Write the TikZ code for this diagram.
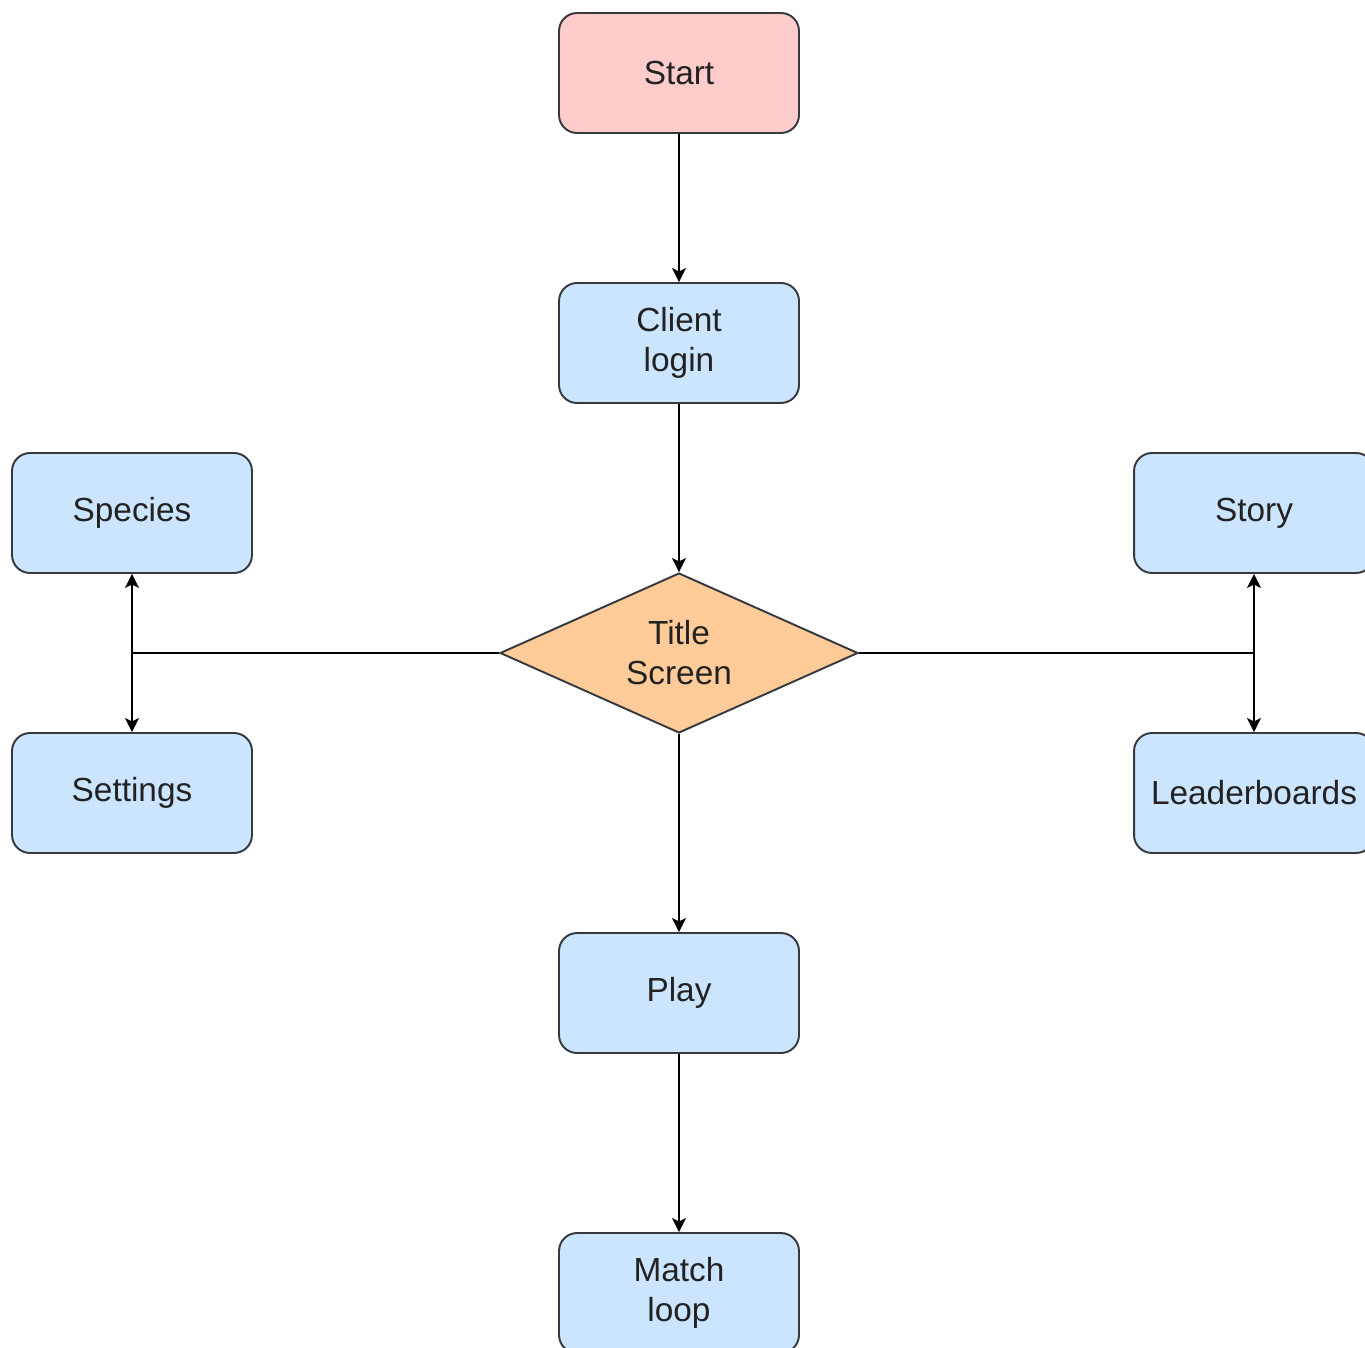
\documentclass[tikz,border=0pt]{standalone}
\usepackage{fontspec}
\setmainfont{Liberation Sans}
\usetikzlibrary{shapes.geometric,arrows.meta}
\definecolor{edgegray}{HTML}{36393D}
\definecolor{pinkfill}{HTML}{FFCCCC}
\definecolor{bluefill}{HTML}{CCE5FF}
\definecolor{orangefill}{HTML}{FFCC99}
\definecolor{txt}{HTML}{222222}
\begin{document}
\begin{tikzpicture}[x=0.02cm,y=-0.02cm,
  card/.style={draw=edgegray,line width=1.1pt,rounded corners=0.36cm,
    minimum width=4.8cm,minimum height=2.4cm,align=center,inner sep=0pt,
    text=txt,font=\fontsize{19}{22.8}\selectfont},
  startbox/.style={card,fill=pinkfill},
  stepcard/.style={card,fill=bluefill},
  decision/.style={diamond,draw=edgegray,line width=1.1pt,fill=orangefill,
    aspect=2.2375,minimum width=7.16cm,minimum height=3.2cm,inner sep=0pt,
    align=center,text=txt,font=\fontsize{19}{22.8}\selectfont},
  link/.style={draw=black,line width=1.1pt,
    -{Stealth[length=8pt,width=8pt,inset=2pt]}}
]
\path[use as bounding box,clip] (0,0) rectangle (1365,1348);

% centre column
\node[startbox] (start) at (679,73) {Start};
\node[stepcard] (login) at (679,343) {Client\\login};
\node[decision] (title) at (679,653) {Title\\Screen};
\node[stepcard] (play) at (679,993) {Play};
\node[stepcard] (match) at (679,1293) {Match\\loop};
% side branches
\node[stepcard] (species) at (132,513) {Species};
\node[stepcard] (settings) at (132,793) {Settings};
\node[stepcard] (story) at (1254,513) {Story};
\node[stepcard] (leader) at (1254,793) {Leaderboards};

\draw[link] (start) -- (login);
\draw[link] (login) -- (title);
\draw[link] (title) -- (play);
\draw[link] (play) -- (match);
\draw[link] (title.west) -| (species.south);
\draw[link] (title.west) -| (settings.north);
\draw[link] (title.east) -| (story.south);
\draw[link] (title.east) -| (leader.north);
\end{tikzpicture}
\end{document}
